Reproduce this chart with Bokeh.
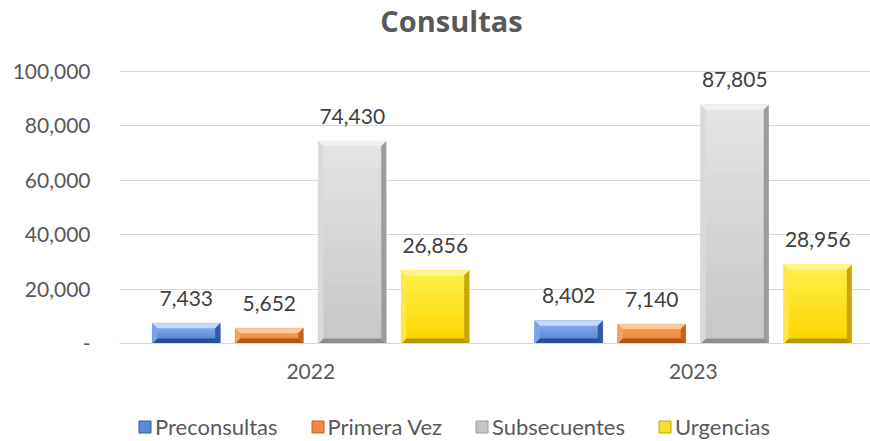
import numpy as np
from bokeh.plotting import figure
from bokeh.layouts import column
from bokeh.models import (ColumnDataSource, Range1d, FixedTicker, NumeralTickFormatter,
                          Legend, LegendItem, LabelSet, Label)
from bokeh.core.properties import value
from bokeh.embed import file_html
from bokeh.resources import INLINE

# ---- data ----
years = ["2022", "2023"]
series = ["Preconsultas", "Primera Vez", "Subsecuentes", "Urgencias"]
preconsultas = [7433, 8402]
primera_vez = [5652, 7140]
subsecuentes = [74430, 87805]
urgencias = [26856, 28956]
y_ticks = [0, 20000, 40000, 60000, 80000, 100000]
title_text = "Consultas"

values = [preconsultas, primera_vez, subsecuentes, urgencias]

# ---- style ----
styles = [
    dict(bt="#8fb5f0", bb="#4f80d8", top="#c2d9f8", left="#7aa3ea", right="#2f5aa8", bot="#2a4e92", leg="#5a88dc"),
    dict(bt="#f8aa6a", bb="#ec7c2e", top="#fcc99a", left="#f4a060", right="#c4611c", bot="#b25313", leg="#ee8a44"),
    dict(bt="#e4e4e4", bb="#c8c8c8", top="#f0f0f0", left="#dadada", right="#9c9c9c", bot="#8e8e8e", leg="#c4c4c4"),
    dict(bt="#fff04a", bb="#ffd500", top="#fff590", left="#ffe64a", right="#c9a600", bot="#b89800", leg="#f8dc30"),
]

W = 870
H_title, H_main, H_leg = 47, 354, 40
left_b = 119
frame_top_page, frame_bot_page = 67, 343
top_b = frame_top_page - H_title
bottom_b = H_title + H_main - frame_bot_page
frame_w = W - left_b
cat_px = 382.5
x_end = frame_w / cat_px
px_per_unit_y = 272.0 / 100000
y_end = 100000 + 4 / px_per_unit_y

def strip(h):
    f = figure(width=W, height=h, output_backend="svg", toolbar_location=None,
               x_axis_type=None, y_axis_type=None, x_range=Range1d(0, 1),
               y_range=Range1d(0, 1), min_border=0)
    f.outline_line_color = None
    f.grid.grid_line_color = None
    return f

pt = strip(H_title)
pl = strip(H_leg)

p = figure(width=W, height=H_main, output_backend="svg", toolbar_location=None,
           x_range=Range1d(0, x_end), y_range=Range1d(0, y_end),
           min_border_left=left_b, min_border_right=0, min_border_top=top_b,
           min_border_bottom=bottom_b)
p.outline_line_color = None
p.background_fill_color = "white"
p.border_fill_color = "white"

font = "Lato"
p.xgrid.grid_line_color = None
p.ygrid.grid_line_color = "#d9d9d9"
p.ygrid.grid_line_width = 1
p.yaxis.ticker = FixedTicker(ticks=y_ticks)
p.yaxis.formatter = NumeralTickFormatter(format="0,0")
p.yaxis.major_label_overrides = {0: "-"}
p.yaxis.axis_line_color = None
p.yaxis.major_tick_line_color = None
p.yaxis.minor_tick_line_color = None
p.yaxis.major_tick_out = 0
p.yaxis.major_tick_in = 0
p.yaxis.major_label_standoff = 29
x_pos = [i + 0.5 for i in range(len(years))]
p.xaxis.ticker = FixedTicker(ticks=x_pos)
p.xaxis.major_label_overrides = {x: y for x, y in zip(x_pos, years)}
p.xaxis.axis_line_color = "#d9d9d9"
p.xaxis.major_tick_line_color = None
p.xaxis.minor_tick_line_color = None
p.xaxis.major_tick_out = 0
p.xaxis.major_tick_in = 0
p.xaxis.major_label_standoff = 20
for ax in (p.xaxis, p.yaxis):
    ax.major_label_text_font = font
    ax.major_label_text_font_size = "21px"
    ax.major_label_text_color = "#595959"

bar_w = 68 / cat_px
step = 83 / cat_px
bev = 5
dx = bev / cat_px
dy = bev / px_per_unit_y
nb = 24

def mix(c1, c2, t):
    a = [int(c1[i:i + 2], 16) for i in (1, 3, 5)]
    b = [int(c2[i:i + 2], 16) for i in (1, 3, 5)]
    return "#%02x%02x%02x" % tuple(int(round(a[k] + (b[k] - a[k]) * t)) for k in range(3))

legend_items = []
for k, (name, vals, st) in enumerate(zip(series, values, styles)):
    xs = np.array(x_pos) + (k - 1.5) * step
    tops = np.array(vals, dtype=float)
    src = ColumnDataSource(dict(x=xs, top=tops, label=["{:,}".format(v) for v in vals]))
    p.vbar(x="x", top="top", width=bar_w, source=src, fill_color=st["leg"], line_color=None)
    L, R, B, T, C = [], [], [], [], []
    for xc, tp in zip(xs, tops):
        h = tp / nb
        for j in range(nb):
            L.append(xc - bar_w / 2); R.append(xc + bar_w / 2)
            B.append(j * h); T.append((j + 1) * h)
            C.append(mix(st["bb"], st["bt"], j / (nb - 1)))
    p.quad(left=L, right=R, bottom=B, top=T, fill_color=C, line_color=C, line_width=0.5)
    pxs, pys, pcs = [], [], []
    for xc, tp in zip(xs, tops):
        x0, x1 = xc - bar_w / 2, xc + bar_w / 2
        d = min(dy, tp / 2)
        pxs += [[x0, x1, x1 - dx, x0 + dx], [x0, x1, x1 - dx, x0 + dx],
                [x0, x0, x0 + dx, x0 + dx], [x1, x1, x1 - dx, x1 - dx]]
        pys += [[tp, tp, tp - d, tp - d], [0, 0, d, d],
                [0, tp, tp - d, d], [0, tp, tp - d, d]]
        pcs += [st["top"], st["bot"], st["left"], st["right"]]
    p.patches(xs=pxs, ys=pys, fill_color=pcs, line_color=None)
    p.add_layout(LabelSet(x="x", y="top", text="label", source=src, y_offset=25,
                          text_align="center", text_baseline="middle",
                          text_font=value(font), text_font_size="21px", text_color="#404040"))
    # legend swatch renderer (kept outside the strip's visible range)
    rl = pl.vbar(x=[-5.0], top=[0.0], width=0.1, fill_color=st["leg"], line_color=st["right"],
                 line_width=1)
    legend_items.append(LegendItem(label=name, renderers=[rl]))

legend = Legend(items=legend_items, orientation="horizontal", location=(18, 1),
                padding=0, margin=0, spacing=32, label_standoff=3,
                glyph_width=15, glyph_height=15, border_line_color=None,
                background_fill_alpha=0, label_text_font=font,
                label_text_font_size="22px", label_text_color="#595959")
pl.add_layout(legend)

pt.add_layout(Label(x=332, y=27, x_units="screen", y_units="screen", text=title_text,
                    text_align="center", text_baseline="alphabetic", text_font="Open Sans",
                    text_font_style="bold", text_font_size="29px", text_color="#595959"))

layout = column(pt, p, pl, spacing=0)
open("out.html", "w").write(file_html(layout, INLINE))
